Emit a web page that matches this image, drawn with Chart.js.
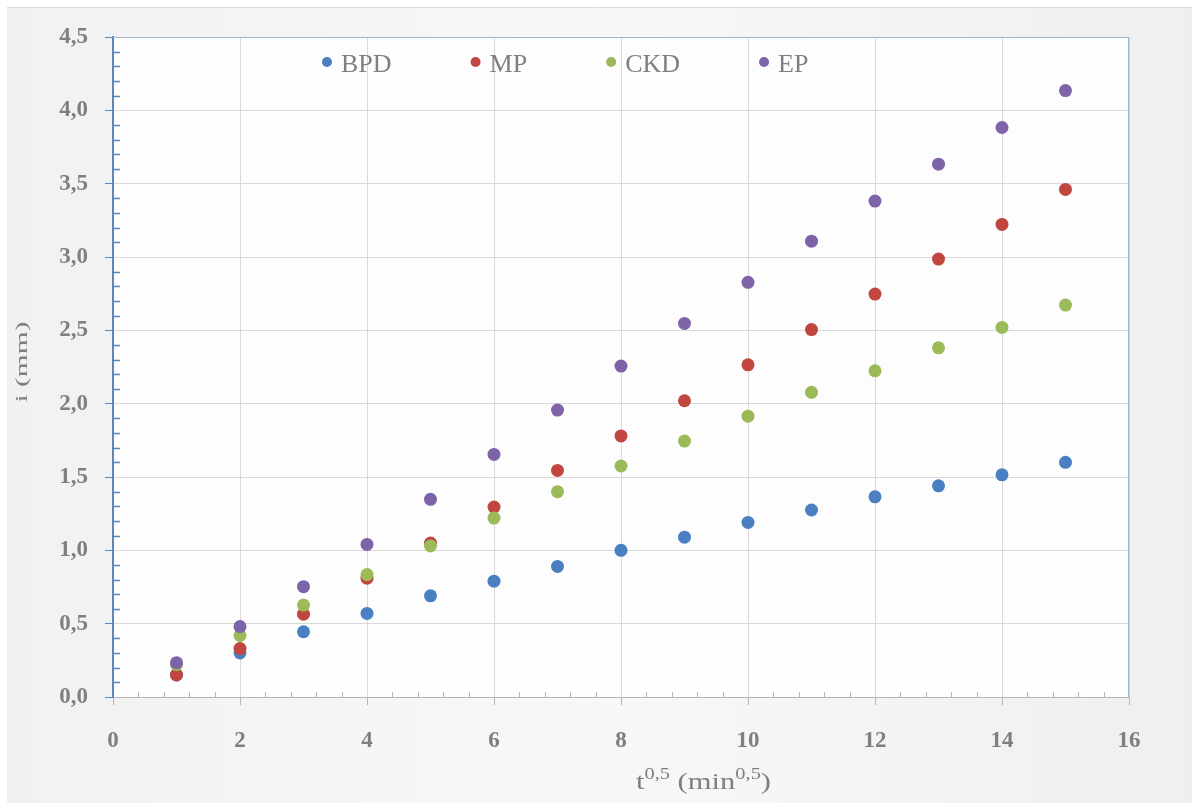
<!DOCTYPE html>
<html>
<head>
<meta charset="utf-8">
<script src="https://cdn.jsdelivr.net/npm/chart.js@4/dist/chart.umd.min.js"></script>
<style>
  body { margin: 0; background: #fff; }
  #wrap { width: 1192px; height: 803px; }
</style>
</head>
<body>
<div id="wrap"><canvas id="infChart" width="1192" height="803"></canvas></div>
<script>
// ── DATA ──
const tValues = [1, 2, 3, 4, 5, 6, 7, 8, 9, 10, 11, 12, 13, 14, 15];
const seriesNames = ['BPD', 'MP', 'CKD', 'EP'];
const bpdValues = [0.15, 0.30, 0.445, 0.57, 0.69, 0.79, 0.89, 1.00, 1.09, 1.19, 1.275, 1.365, 1.44, 1.515, 1.60];
const mpValues  = [0.15, 0.33, 0.565, 0.81, 1.05, 1.295, 1.545, 1.78, 2.02, 2.265, 2.505, 2.747, 2.986, 3.222, 3.461];
const ckdValues = [0.22, 0.42, 0.627, 0.835, 1.03, 1.22, 1.40, 1.575, 1.745, 1.915, 2.077, 2.224, 2.381, 2.52, 2.672];
const epValues  = [0.234, 0.48, 0.752, 1.04, 1.348, 1.654, 1.956, 2.256, 2.547, 2.827, 3.108, 3.381, 3.633, 3.883, 4.135];
const seriesColors = ['#4a7fc1', '#c0463f', '#9bbb59', '#7f63a8'];
const xTitleParts = [['t', false], ['0,5', true], [' (min', false], ['0,5', true], [')', false]];
const yTitle = 'i (mm)';

const TEXT_GREY = '#7f7f7f';
const AXIS_BLUE = '#5b86b8';
const SERIF = '"Liberation Serif", "Times New Roman", serif';

const toPoints = vals => vals.map((v, i) => ({ x: tValues[i], y: v }));
const allValues = [bpdValues, mpValues, ckdValues, epValues];

// ── PLUGINS ──
const backdrop = {
    id: 'backdrop',
    beforeDraw(chart) {
        const { ctx, width, height, chartArea: a } = chart;
        ctx.save();
        ctx.fillStyle = '#ffffff';
        ctx.fillRect(0, 0, width, height);
        const g = ctx.createLinearGradient(0, 0, width, 0);
        g.addColorStop(0, '#f1f1f1');
        g.addColorStop(0.5, '#f8f8f8');
        g.addColorStop(1, '#efefef');
        ctx.fillStyle = g;
        ctx.fillRect(7, 8, width - 7, height - 8);
        ctx.strokeStyle = '#dcdcdc';
        ctx.lineWidth = 1;
        ctx.beginPath();
        ctx.moveTo(7, 7.5);
        ctx.lineTo(width, 7.5);
        ctx.stroke();
        ctx.fillStyle = '#fdfdfd';
        ctx.fillRect(a.left, a.top, a.right - a.left, a.bottom - a.top);
        ctx.restore();
    },
    beforeDatasetsDraw(chart) {
        const { ctx, chartArea: a, scales: { x, y } } = chart;
        ctx.save();
        // top and right frame
        ctx.strokeStyle = '#9fb4cf';
        ctx.lineWidth = 1;
        ctx.beginPath();
        ctx.moveTo(a.left, a.top + 0.5);
        ctx.lineTo(a.right, a.top + 0.5);
        ctx.moveTo(a.right - 0.5, a.top);
        ctx.lineTo(a.right - 0.5, a.bottom);
        ctx.stroke();
        // y minor ticks, inside
        ctx.strokeStyle = AXIS_BLUE;
        ctx.lineWidth = 1.5;
        ctx.beginPath();
        for (let k = 1; k < 45; k++) {
            if (k % 5 === 0) continue;
            const py = Math.round(y.getPixelForValue(k / 10)) + 0.5;
            ctx.moveTo(a.left, py);
            ctx.lineTo(a.left + 7, py);
        }
        ctx.stroke();
        // x minor ticks, inside
        ctx.strokeStyle = '#b5b5b5';
        ctx.lineWidth = 1;
        ctx.beginPath();
        for (let k = 1; k < 40; k++) {
            if (k % 5 === 0) continue;
            const px = Math.round(x.getPixelForValue(k * 0.4)) + 0.5;
            ctx.moveTo(px, a.bottom);
            ctx.lineTo(px, a.bottom - 5);
        }
        ctx.stroke();

        // legend inside the plot
        ctx.font = '26px ' + SERIF;
        ctx.textBaseline = 'alphabetic';
        let cx = 327;
        seriesNames.forEach((name, i) => {
            ctx.fillStyle = seriesColors[i];
            ctx.beginPath();
            ctx.arc(cx, 62, 5, 0, Math.PI * 2);
            ctx.fill();
            ctx.fillStyle = TEXT_GREY;
            ctx.fillText(name, cx + 14, 72);
            cx += 14 + ctx.measureText(name).width + 84;
        });
        ctx.restore();
    },
    afterDraw(chart) {
        const { ctx } = chart;
        const big = '24px ' + SERIF, small = '16px ' + SERIF;
        ctx.save();
        ctx.fillStyle = TEXT_GREY;

        // x axis title with superscripts, stretched like the original
        ctx.textBaseline = 'alphabetic';
        let w = 0;
        xTitleParts.forEach(([s, sup]) => { ctx.font = sup ? small : big; w += ctx.measureText(s).width; });
        ctx.save();
        ctx.translate(636, 789);
        ctx.scale(135 / w, 1);
        let px = 0;
        xTitleParts.forEach(([s, sup]) => {
            ctx.font = sup ? small : big;
            ctx.fillText(s, px, sup ? -10 : 0);
            px += ctx.measureText(s).width;
        });
        ctx.restore();

        // y axis title, rotated and stretched
        ctx.font = '16px ' + SERIF;
        ctx.textAlign = 'center';
        ctx.textBaseline = 'middle';
        const yw = ctx.measureText(yTitle).width;
        ctx.translate(23, 362);
        ctx.rotate(-Math.PI / 2);
        ctx.scale(81 / yw, 1);
        ctx.fillText(yTitle, 0, 0);
        ctx.restore();
    }
};

// ── CHART ──
const ctx = document.getElementById('infChart').getContext('2d');
const infChart = new Chart(ctx, {
    type: 'scatter',
    data: {
        datasets: seriesNames.map((name, i) => ({
            label: name,
            data: toPoints(allValues[i]),
            backgroundColor: seriesColors[i],
            borderWidth: 0,
            pointRadius: 6.5,
            pointHoverRadius: 6.5,
            order: seriesNames.length - i
        }))
    },
    options: {
        responsive: false,
        animation: false,
        layout: { padding: { left: 0, top: 37, right: 63, bottom: 0 } },
        plugins: {
            legend: { display: false },
            tooltip: { enabled: false }
        },
        scales: {
            x: {
                type: 'linear',
                min: 0,
                max: 16,
                afterFit: s => { s.height = 106; },
                ticks: {
                    stepSize: 2,
                    padding: 22,
                    color: TEXT_GREY,
                    font: { family: SERIF, size: 23, weight: 'bold' }
                },
                grid: { color: '#d9d9d9', tickColor: '#b5b5b5', tickLength: 8 },
                border: { color: '#b5b5b5', width: 1 }
            },
            y: {
                min: 0,
                max: 4.5,
                afterFit: s => { s.width = 113; },
                ticks: {
                    stepSize: 0.5,
                    padding: 17,
                    color: TEXT_GREY,
                    font: { family: SERIF, size: 23, weight: 'bold' },
                    callback: v => v.toFixed(1).replace('.', ',')
                },
                grid: { color: '#d9d9d9', tickColor: AXIS_BLUE, tickLength: 8 },
                border: { color: AXIS_BLUE, width: 2 }
            }
        }
    },
    plugins: [backdrop]
});
</script>
</body>
</html>
